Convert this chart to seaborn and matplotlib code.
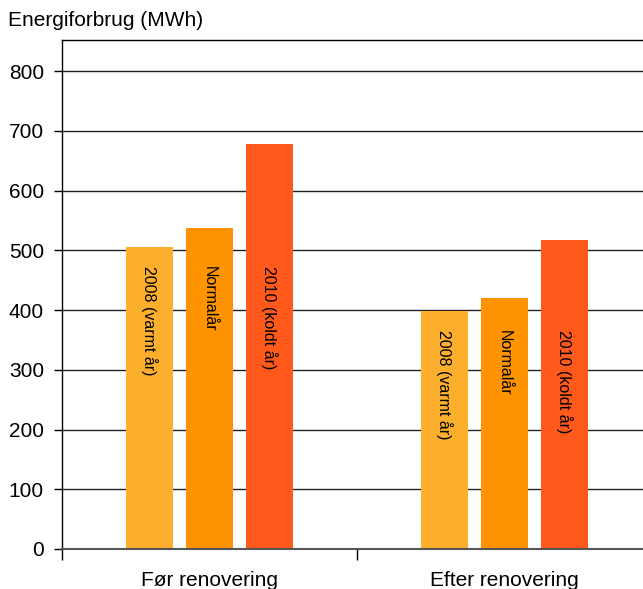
import numpy as np
import pandas as pd
import seaborn as sns
import matplotlib.pyplot as plt

# data
periods = ['Før renovering', 'Efter renovering']
years = ['2008 (varmt år)', 'Normalår', '2010 (koldt år)']
foer = [505, 537, 678]
efter = [398, 420, 517]
colors = ['#FBAF2D', '#FF9300', '#FF5A1B']

df = pd.DataFrame({
    'periode': [periods[0]] * 3 + [periods[1]] * 3,
    'aar': years * 2,
    'mwh': foer + efter,
})

sns.set_style('white')
plt.rcParams['font.family'] = ['Liberation Sans', 'DejaVu Sans']
plt.rcParams['text.color'] = 'black'
plt.rcParams['xtick.color'] = 'black'
plt.rcParams['ytick.color'] = 'black'

fig = plt.figure(figsize=(6.43, 5.89), dpi=100)
ax = fig.add_axes([62 / 643, 40 / 589, 590 / 643, 509 / 589])

ax.yaxis.grid(True, color='#222222', linewidth=1)
ax.set_axisbelow(True)

sns.barplot(data=df, x='periode', y='mwh', hue='aar', order=periods,
            hue_order=years, palette=colors, saturation=1,
            width=0.61, gap=0.23, linewidth=0, legend=False, ax=ax)

# labels inside bars, all starting a bit under the lowest bar of each group
group_min = df.groupby('periode')['mwh'].min()
for cont, name in zip(ax.containers, years):
    for bar, per in zip(cont, periods):
        x = bar.get_x() + bar.get_width() / 2
        ax.text(x, group_min[per] - 32, name, rotation=270,
                ha='center', va='top', fontsize=11.5, color='black')

ax.set_xlim(-0.5, 1.5)
ax.set_ylim(0, 852)
ax.set_yticks(range(0, 900, 100))
ax.set_xlabel('')
ax.set_ylabel('')

ax.tick_params(axis='y', left=True, length=6, width=1, color='black',
               labelsize=15, labelcolor='black', pad=7)
ax.tick_params(axis='x', which='major', length=0, labelsize=15,
               labelcolor='black', pad=16)
ax.set_xticks([-0.5, 0.5, 1.5], minor=True)
ax.tick_params(axis='x', which='minor', bottom=True, length=8, width=1,
               color='black')

for side in ['top', 'left']:
    ax.spines[side].set_color('black')
    ax.spines[side].set_linewidth(1)
ax.spines['right'].set_visible(False)
ax.spines['bottom'].set_color('#555555')
ax.spines['bottom'].set_linewidth(1.5)

fig.text(8 / 643, 1 - 20 / 589, 'Energiforbrug (MWh)', va='center',
         ha='left', fontsize=15, color='black')

fig.savefig('out.png', dpi=100)
